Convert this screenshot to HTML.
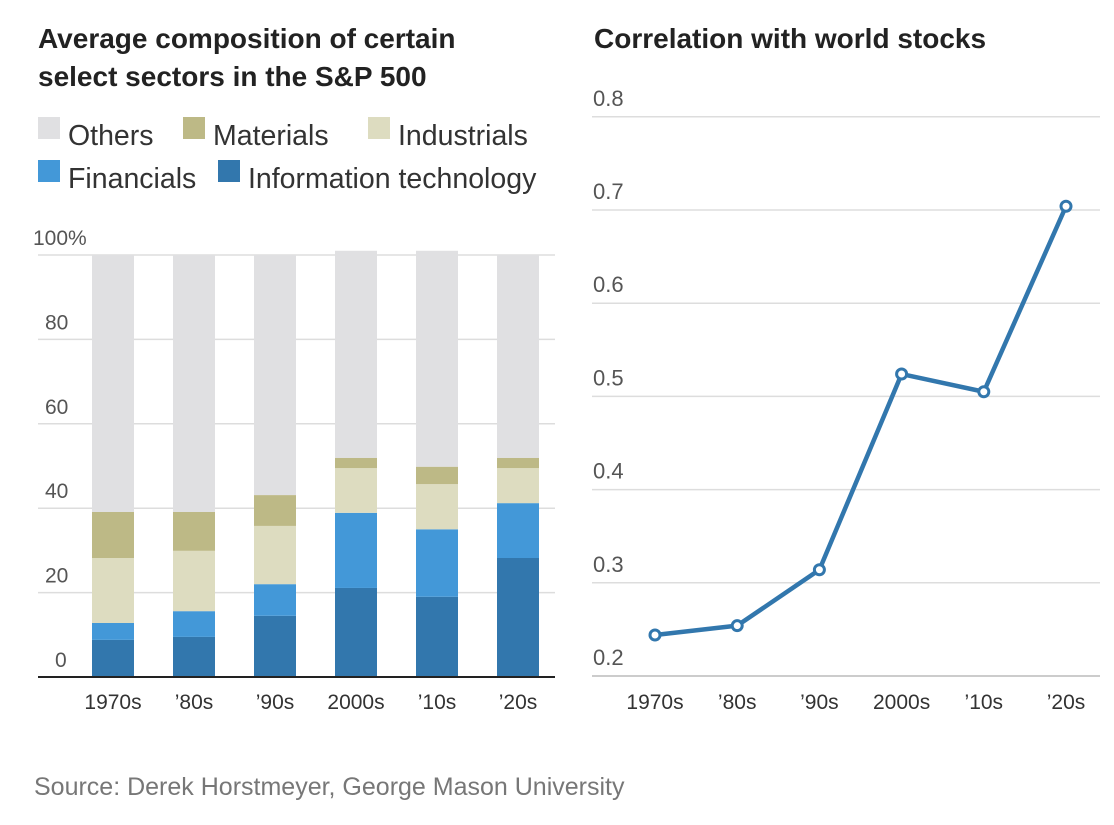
<!DOCTYPE html>
<html><head><meta charset="utf-8"><style>
body{margin:0;background:#fff;width:1114px;height:820px;overflow:hidden;font-family:"Liberation Sans",sans-serif}
</style></head><body>
<svg width="1114" height="820">
<text x="38" y="48" font-size="28" font-weight="bold" fill="#222">Average composition of certain</text>
<text x="38" y="86" font-size="28" font-weight="bold" fill="#222">select sectors in the S&amp;P 500</text>
<text x="594" y="48" font-size="28" font-weight="bold" fill="#222">Correlation with world stocks</text>
<g id="legend" font-size="28.5" fill="#333"></g>
<g id="left"></g>
<g id="right"></g>
<text x="34" y="795" font-size="25" fill="#777">Source: Derek Horstmeyer, George Mason University</text>
</svg>
<script>
const categories=["1970s","’80s","’90s","2000s","’10s","’20s"];
const itValues=[8.8,9.5,14.5,21.1,19,28.2];
const finValues=[4,6.1,7.5,17.8,16,13];
const indValues=[15.4,14.3,13.8,10.6,10.7,8.3];
const matValues=[10.9,9.2,7.3,2.4,4.1,2.4];
const totalValues=[100,100,100,101,101,100];
const leftTicks=[0,20,40,60,80,100];
const corrValues=[0.244,0.254,0.314,0.524,0.505,0.704];
const rightTicks=[0.2,0.3,0.4,0.5,0.6,0.7,0.8];
const NS="http://www.w3.org/2000/svg";
function mk(p,t,a){const e=document.createElementNS(NS,t);for(const k in a)e.setAttribute(k,a[k]);p.appendChild(e);return e;}
const colors={oth:"#e0e0e2",mat:"#bdb986",ind:"#dddcc0",fin:"#4398d8",it:"#3277ad"};
const lg=document.getElementById('legend');
const items=[["Others",colors.oth,38,137],["Materials",colors.mat,183,137],["Industrials",colors.ind,368,137],["Financials",colors.fin,38,180],["Information technology",colors.it,218,180]];
items.forEach(it=>{
 const r=mk(lg,'rect',{x:it[2],y:it[3]-20,width:22,height:22,fill:it[1]});
 
 
 const t=mk(lg,'text',{x:it[2]+30,y:it[3]+8});t.textContent=it[0];
 
 
});
const L=document.getElementById('left');
const ly=v=>677-v*4.22;
const lx=i=>113+i*81;
leftTicks.forEach(v=>{
 if(v>0){const g=mk(L,'line',{x1:38,x2:555,y1:ly(v),y2:ly(v),stroke:'#ddd','stroke-width':1.5});
 
 }
 const t=mk(L,'text',{x:v==100?33:(v==0?55:45),y:ly(v)-10,'font-size':21,fill:'#555'});
 t.textContent=v==100?'100%':v;
 
 
});
categories.forEach((c,i)=>{
 const segs=[[itValues[i],colors.it,'it'],[finValues[i],colors.fin,'fin'],[indValues[i],colors.ind,'ind'],[matValues[i],colors.mat,'mat']];
 let base=0;
 const sum=segs.reduce((a,s)=>a+s[0],0);
 const o=mk(L,'rect',{x:lx(i)-21,y:ly(totalValues[i]),width:42,height:ly(sum)-ly(totalValues[i]),fill:colors.oth});
 
 
 segs.forEach(s=>{
  const r=mk(L,'rect',{x:lx(i)-21,y:ly(base+s[0]),width:42,height:ly(base)-ly(base+s[0]),fill:s[1]});
  
  
  base+=s[0];
 });
 const t=mk(L,'text',{x:lx(i),y:709,'font-size':21,fill:'#333','text-anchor':'middle'});t.textContent=c;
 
 
});
const ax=mk(L,'line',{x1:38,x2:555,y1:677,y2:677,stroke:'#222','stroke-width':2});


const R=document.getElementById('right');
const ry=v=>676-(v-0.2)*932;
const rx=i=>655+i*82.2;
rightTicks.forEach(v=>{
 const g=mk(R,'line',{x1:592,x2:1100,y1:ry(v),y2:ry(v),stroke:v==0.2?'#bbb':'#ddd','stroke-width':1.5});
 
 
 const t=mk(R,'text',{x:593,y:ry(v)-11,'font-size':22,fill:'#555'});t.textContent=v.toFixed(1);
 
 
});
const pl=mk(R,'polyline',{points:corrValues.map((v,i)=>rx(i)+','+ry(v)).join(' '),fill:'none',stroke:'#3277ad','stroke-width':4.5,'stroke-linejoin':'round'});


corrValues.forEach((v,i)=>{
 const c=mk(R,'circle',{cx:rx(i),cy:ry(v),r:5,fill:'#fff',stroke:'#3277ad','stroke-width':3});
 
 
});
categories.forEach((c,i)=>{
 const t=mk(R,'text',{x:rx(i),y:709,'font-size':21,fill:'#333','text-anchor':'middle'});t.textContent=c;
 
 
});
</script>
</body></html>
